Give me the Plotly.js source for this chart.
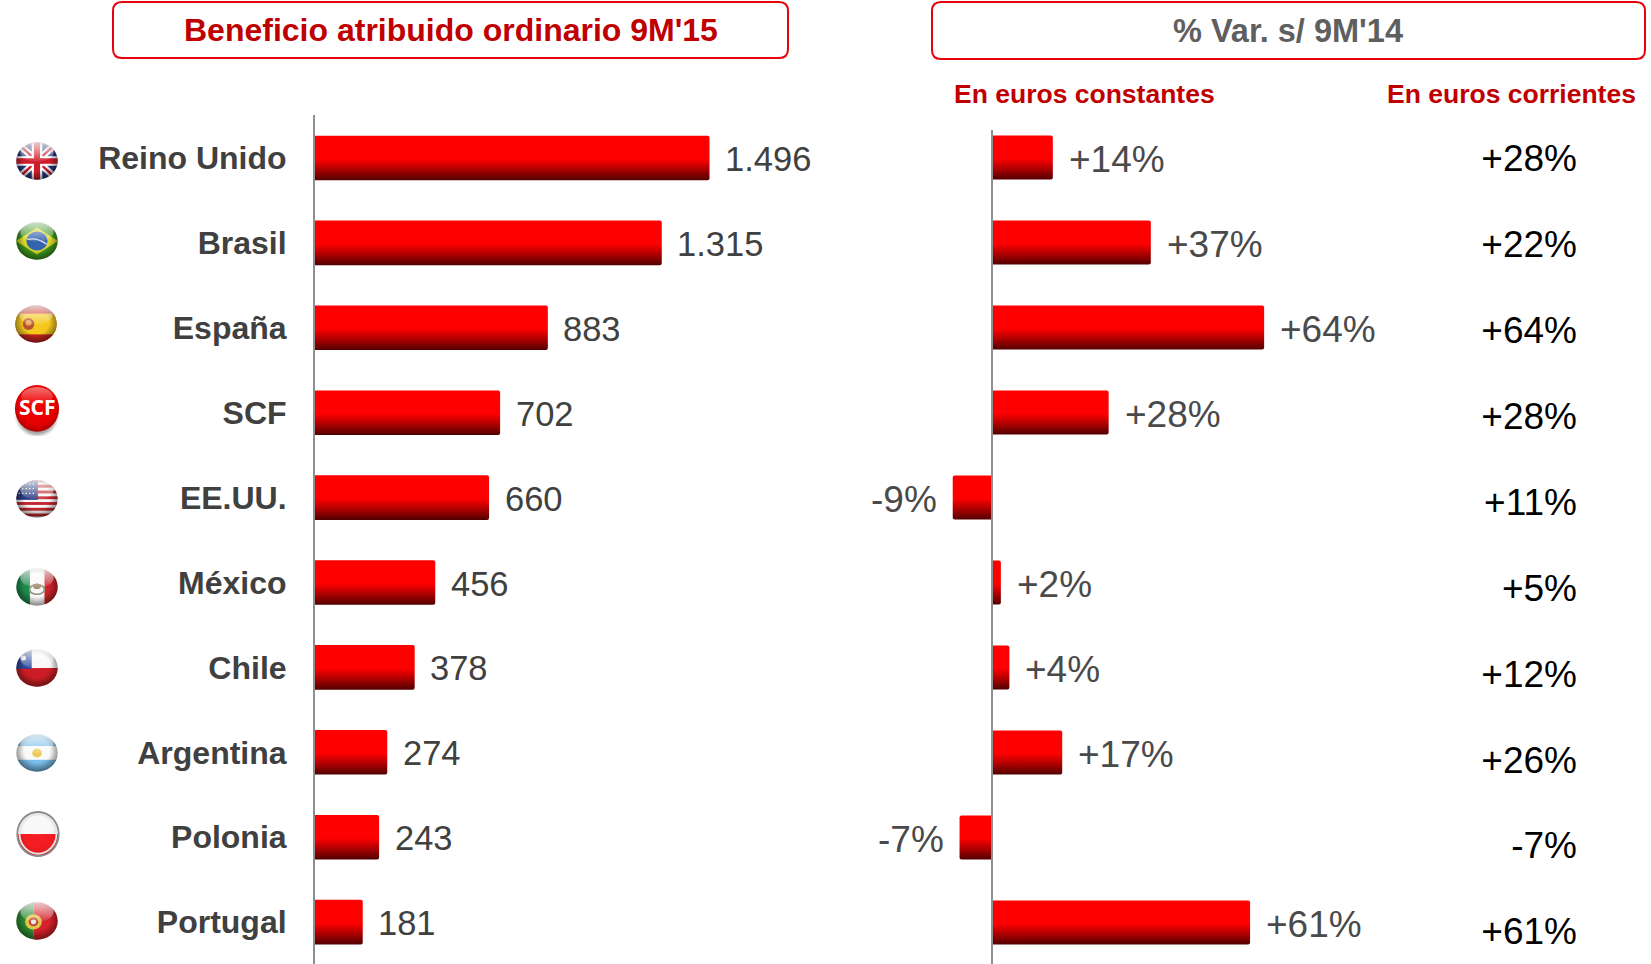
<!DOCTYPE html>
<html><head><meta charset="utf-8">
<script src="https://cdn.plot.ly/plotly-3.0.1.min.js"></script>
<style>html,body{margin:0;padding:0;background:#fff;overflow:hidden}#chart{width:1651px;height:964px}</style>
</head><body><div id="chart"></div>
<script>
// ---------- data ----------
const countries = ['Reino Unido','Brasil','España','SCF','EE.UU.','México','Chile','Argentina','Polonia','Portugal'];
const profit = [1496,1315,883,702,660,456,378,274,243,181];
const profitLabels = ['1.496','1.315','883','702','660','456','378','274','243','181'];
const varConstant = [14.4,37.4,64,27.5,-9.1,2.2,4.2,16.6,-7.5,60.7];
const varConstantLabels = ['+14%','+37%','+64%','+28%','-9%','+2%','+4%','+17%','-7%','+61%'];
const varCurrentLabels = ['+28%','+22%','+64%','+28%','+11%','+5%','+12%','+26%','-7%','+61%'];

// ---------- layout helpers ----------
const W = 1651, H = 964;
const px = x => x / W, py = y => 1 - y / H;
const FONT = 'Liberation Sans, Arial, sans-serif';
const RED = '#ff0000', DARKRED = '#c00000', GREY = '#404040';

function rrect(x0, y0, x1, y1, r) {
  const P = (x, y) => px(x) + ',' + py(y);
  return 'M' + P(x0 + r, y0) + ' L' + P(x1 - r, y0) + ' Q' + P(x1, y0) + ' ' + P(x1, y0 + r) +
    ' L' + P(x1, y1 - r) + ' Q' + P(x1, y1) + ' ' + P(x1 - r, y1) +
    ' L' + P(x0 + r, y1) + ' Q' + P(x0, y1) + ' ' + P(x0, y1 - r) +
    ' L' + P(x0, y0 + r) + ' Q' + P(x0, y0) + ' ' + P(x0 + r, y0) + ' Z';
}

// ---------- glossy flags ----------
function sphere(inner, opts) {
  opts = opts || {};
  const svg = '<svg xmlns="http://www.w3.org/2000/svg" width="100" height="100" viewBox="0 0 100 100" preserveAspectRatio="none"><defs>' +
    '<clipPath id="c"><circle cx="50" cy="50" r="47"/></clipPath>' +
    '<radialGradient id="s" cx="50%" cy="45%" r="52%"><stop offset="0.6" stop-color="#000" stop-opacity="0"/><stop offset="1" stop-color="#000" stop-opacity="' + (opts.edge || 0.42) + '"/></radialGradient>' +
    '<linearGradient id="g" x1="0" y1="0" x2="0" y2="1"><stop offset="0" stop-color="#fff" stop-opacity="' + (opts.gloss || 0.8) + '"/><stop offset="1" stop-color="#fff" stop-opacity="0.08"/></linearGradient>' +
    '<filter id="b" x="-10%" y="-10%" width="120%" height="120%"><feGaussianBlur stdDeviation="1.6"/></filter></defs>' +
    '<g filter="url(#b)"><g clip-path="url(#c)">' + inner + '</g>' +
    '<circle cx="50" cy="50" r="47" fill="url(#s)"/>' +
    '<ellipse cx="50" cy="27" rx="38" ry="25" fill="url(#g)"/></g>' +
    (opts.ring ? '<circle cx="50" cy="50" r="46" fill="none" stroke="#8a8a8a" stroke-width="4"/><circle cx="50" cy="50" r="41" fill="none" stroke="#e6e6e6" stroke-width="4"/>' : '') +
    '</svg>';
  return 'data:image/svg+xml;charset=utf-8,' + encodeURIComponent(svg);
}
const rect = (x, y, w, h, f) => `<rect x="${x}" y="${y}" width="${w}" height="${h}" fill="${f}"/>`;
const stripes = (() => { let s = ''; for (let i = 0; i < 7; i++) s += rect(0, i * 14.4, 100, 7.2, '#c2272d'); return s; })();
const flagArt = [
  rect(0,0,100,100,'#28367c') + '<path d="M0 0L100 100M100 0L0 100" stroke="#fff" stroke-width="16"/><path d="M0 0L100 100M100 0L0 100" stroke="#cf1b2b" stroke-width="6"/>' + rect(38,0,24,100,'#fff') + rect(0,38,100,24,'#fff') + rect(43,0,14,100,'#cf1b2b') + rect(0,43,100,14,'#cf1b2b'),
  rect(0,0,100,100,'#3d9a1e') + '<path d="M2 50L50 16L98 50L50 84Z" fill="#d9d62a"/><circle cx="50" cy="50" r="24" fill="#3463ad"/><path d="M28 46Q50 40 72 58" stroke="#d8e6f2" stroke-width="3" fill="none"/>',
  rect(0,0,100,100,'#c9261e') + rect(0,24,100,52,'#f4c81c') + '<ellipse cx="33" cy="50" rx="13" ry="15" fill="#b9532f"/><ellipse cx="33" cy="47" rx="7" ry="7" fill="#e8a85a"/>',
  '',
  rect(0,0,100,100,'#f7f7f7') + stripes + rect(0,0,52,52,'#2a3a80') + '<path d="M8 12h36M8 24h36M8 36h36" stroke="#fff" stroke-width="3" stroke-dasharray="3 5"/>',
  rect(0,0,34,100,'#1f8a4c') + rect(34,0,33,100,'#f8f8f8') + rect(67,0,33,100,'#c9242b') + '<ellipse cx="50" cy="56" rx="17" ry="12" fill="none" stroke="#8d9178" stroke-width="4"/><ellipse cx="50" cy="48" rx="9" ry="7" fill="#a18d68"/>',
  rect(0,0,100,52,'#f7f7f7') + rect(0,50,100,50,'#cc1f25') + rect(0,0,38,52,'#2b4a9b') + '<circle cx="19" cy="25" r="6" fill="#fff"/>',
  rect(0,0,100,33,'#79bde8') + rect(0,33,100,34,'#fafafa') + rect(0,67,100,33,'#79bde8') + '<circle cx="50" cy="50" r="11" fill="#eccb5a"/>',
  rect(0,0,100,50,'#f8f8f8') + rect(0,50,100,50,'#f51f24'),
  rect(0,0,42,100,'#2d8a34') + rect(42,0,58,100,'#d3202a') + '<circle cx="42" cy="52" r="19" fill="#e3c546"/><circle cx="42" cy="52" r="11" fill="#c44a3c"/><circle cx="42" cy="52" r="6" fill="#e8e8e8"/>'
];
const scfArt = '<svg xmlns="http://www.w3.org/2000/svg" width="100" height="100" viewBox="0 0 100 100" preserveAspectRatio="none"><defs>' +
  '<radialGradient id="r" cx="50%" cy="42%" r="58%"><stop offset="0" stop-color="#f40000"/><stop offset="0.72" stop-color="#e60000"/><stop offset="1" stop-color="#b00000"/></radialGradient>' +
  '<linearGradient id="g" x1="0" y1="0" x2="0" y2="1"><stop offset="0" stop-color="#fff" stop-opacity="0.45"/><stop offset="1" stop-color="#fff" stop-opacity="0"/></linearGradient>' +
  '<filter id="b" x="-20%" y="-20%" width="140%" height="140%"><feGaussianBlur stdDeviation="3"/></filter></defs>' +
  '<ellipse cx="50" cy="58" rx="42" ry="41" fill="#000" opacity="0.35" filter="url(#b)"/>' +
  '<circle cx="50" cy="47" r="45" fill="url(#r)"/><ellipse cx="50" cy="24" rx="32" ry="18" fill="url(#g)"/></svg>';
const flagSources = flagArt.map((art, i) => {
  if (i === 3) return 'data:image/svg+xml;charset=utf-8,' + encodeURIComponent(scfArt);
  if (i === 8) return sphere(art, {ring: true, gloss: 0.3, edge: 0.1});
  return sphere(art);
});
const flagBoxes = [[37,161,44,40],[37,241,44,40],[36,324,44,40],[37,410,49,52],[37,499,44,40],[37,587,44,40],[37,668,44,40],[37,753,44,40],[38,834,45,48],[37,921,44,40]];
const images = flagSources.map((source, i) => {
  const b = flagBoxes[i];
  return {source, xref:'paper', yref:'paper', x:px(b[0]), y:py(b[1]), sizex:b[2]/W, sizey:b[3]/H,
          xanchor:'center', yanchor:'middle', sizing:'stretch', layer:'above'};
});

// ---------- axes geometry ----------
const L = {axis:315, end:900, scale:0.2637, top:115, rowTop:158, rowGap:84.9};
const R = {axis:991.5, end:1400, scale:4.26, top:130, rowTop:157.5, rowGap:85};
const C = {start:1420, end:1577, rowTop:162, rowGap:85.9};

const traces = [
  {type:'bar', orientation:'h', x:profit, y:countries, xaxis:'x', yaxis:'y', width:0.525,
   marker:{color:RED, line:{width:0}}, hoverinfo:'skip'},
  {type:'bar', orientation:'h', x:varConstant, y:countries, xaxis:'x2', yaxis:'y2', width:0.52,
   marker:{color:RED, line:{width:0}}, hoverinfo:'skip'},
  {type:'scatter', mode:'text', x:countries.map(() => 1), y:countries, xaxis:'x3', yaxis:'y3',
   text:varCurrentLabels, textposition:'middle left', cliponaxis:false,
   textfont:{family:FONT, size:37, color:'#000000'}, hoverinfo:'skip'}
];

const annotations = [];
countries.forEach((c, i) => {
  annotations.push({xref:'x', yref:'y', x:profit[i], y:c, text:profitLabels[i], showarrow:false,
    xanchor:'left', yanchor:'middle', xshift:13.5, yshift:-1, font:{family:FONT, size:34.5, color:GREY}});
  const neg = varConstant[i] < 0;
  annotations.push({xref:'x2', yref:'y2', x:varConstant[i], y:c, text:varConstantLabels[i], showarrow:false,
    xanchor:neg ? 'right' : 'left', yanchor:'middle', xshift:neg ? -14 : 14, yshift:-2,
    font:{family:FONT, size:37, color:'#4a4a4a'}});
});
function note(text, x, y, size, color, bold) {
  annotations.push({xref:'paper', yref:'paper', x:px(x), y:py(y), text:bold ? '<b>' + text + '</b>' : text,
    showarrow:false, xanchor:'center', yanchor:'middle', font:{family:FONT, size:size, color:color}});
}
note("Beneficio atribuido ordinario 9M'15", 451, 30, 32, DARKRED, true);
note("% Var. s/ 9M'14", 1288, 31.5, 32.5, '#5f5f5f', true);
note('En euros constantes', 1084.5, 94, 26.5, DARKRED, true);
note('En euros corrientes', 1511.5, 94, 26.5, DARKRED, true);
annotations.push({xref:'paper', yref:'paper', x:px(37), y:py(407), text:'<b>SCF</b>', showarrow:false,
  xanchor:'center', yanchor:'middle', font:{family:'Noto Sans, sans-serif', size:21, color:'#ffffff'}});

const boxShape = (x0, y0, x1, y1) => ({type:'path', xref:'paper', yref:'paper', path:rrect(x0, y0, x1, y1, 9),
  line:{color:'#e8000b', width:2}, fillcolor:'rgba(0,0,0,0)'});

const AXIS_LINE = {showline:true, linecolor:'#8f8f8f', linewidth:2};
const layout = {
  width:W, height:H, margin:{l:0, r:0, t:0, b:0}, paper_bgcolor:'#fff', plot_bgcolor:'rgba(0,0,0,0)',
  showlegend:false, barcornerradius:2, barmode:'overlay',
  xaxis:{domain:[px(L.axis), px(L.end)], range:[0, (L.end - L.axis) / L.scale], showgrid:false, showticklabels:false, ticks:'',
         zeroline:false, anchor:'y', fixedrange:true},
  yaxis:Object.assign({domain:[0, py(L.top)], type:'category', categoryorder:'array', categoryarray:countries,
         range:[(H - L.rowTop) / L.rowGap, (L.top - L.rowTop) / L.rowGap], showgrid:false, zeroline:false,
         ticks:'', ticklabelstandoff:20, tickfont:{family:FONT, size:32, color:GREY, weight:'bold'}, anchor:'x', fixedrange:true}, AXIS_LINE),
  xaxis2:{domain:[px(860), px(R.end)], range:[(860 - R.axis) / R.scale, (R.end - R.axis) / R.scale], showgrid:false, showticklabels:false, ticks:'',
          zeroline:false, anchor:'y2', fixedrange:true},
  yaxis2:Object.assign({domain:[0, py(R.top)], type:'category', categoryorder:'array', categoryarray:countries,
          range:[(H - R.rowTop) / R.rowGap, (R.top - R.rowTop) / R.rowGap], showgrid:false, zeroline:false,
          showticklabels:false, ticks:'', anchor:'free', position:px(R.axis), fixedrange:true}, AXIS_LINE),
  xaxis3:{domain:[px(C.start), px(C.end)], range:[0, 1], visible:false, anchor:'y3', fixedrange:true},
  yaxis3:{domain:[0, 1], type:'category', categoryorder:'array', categoryarray:countries,
          range:[(H - C.rowTop) / C.rowGap, -C.rowTop / C.rowGap], visible:false, anchor:'x3', fixedrange:true},
  shapes:[boxShape(113, 2, 788, 58), boxShape(932, 2, 1645, 59)],
  annotations, images
};

const gd = document.getElementById('chart');
function paintBars() {
  const svg = gd.querySelector('.main-svg');
  if (!svg) return;
  if (!svg.querySelector('#barGrad')) {
    const NS = 'http://www.w3.org/2000/svg';
    const g = document.createElementNS(NS, 'linearGradient');
    g.setAttribute('id', 'barGrad');
    g.setAttribute('x1', '0'); g.setAttribute('y1', '0'); g.setAttribute('x2', '0'); g.setAttribute('y2', '1');
    [[0, '#ff0000'], [0.52, '#ff0000'], [0.75, '#b00000'], [1, '#520000']].forEach(s => {
      const st = document.createElementNS(NS, 'stop');
      st.setAttribute('offset', s[0]); st.setAttribute('stop-color', s[1]);
      g.appendChild(st);
    });
    (svg.querySelector('defs') || svg).appendChild(g);
  }
  gd.querySelectorAll('.bars .point path').forEach(p => { p.style.fill = 'url(#barGrad)'; });
}
Plotly.newPlot(gd, traces, layout, {displayModeBar:false, staticPlot:true}).then(paintBars);
gd.on && gd.on('plotly_afterplot', paintBars);
</script></body></html>
